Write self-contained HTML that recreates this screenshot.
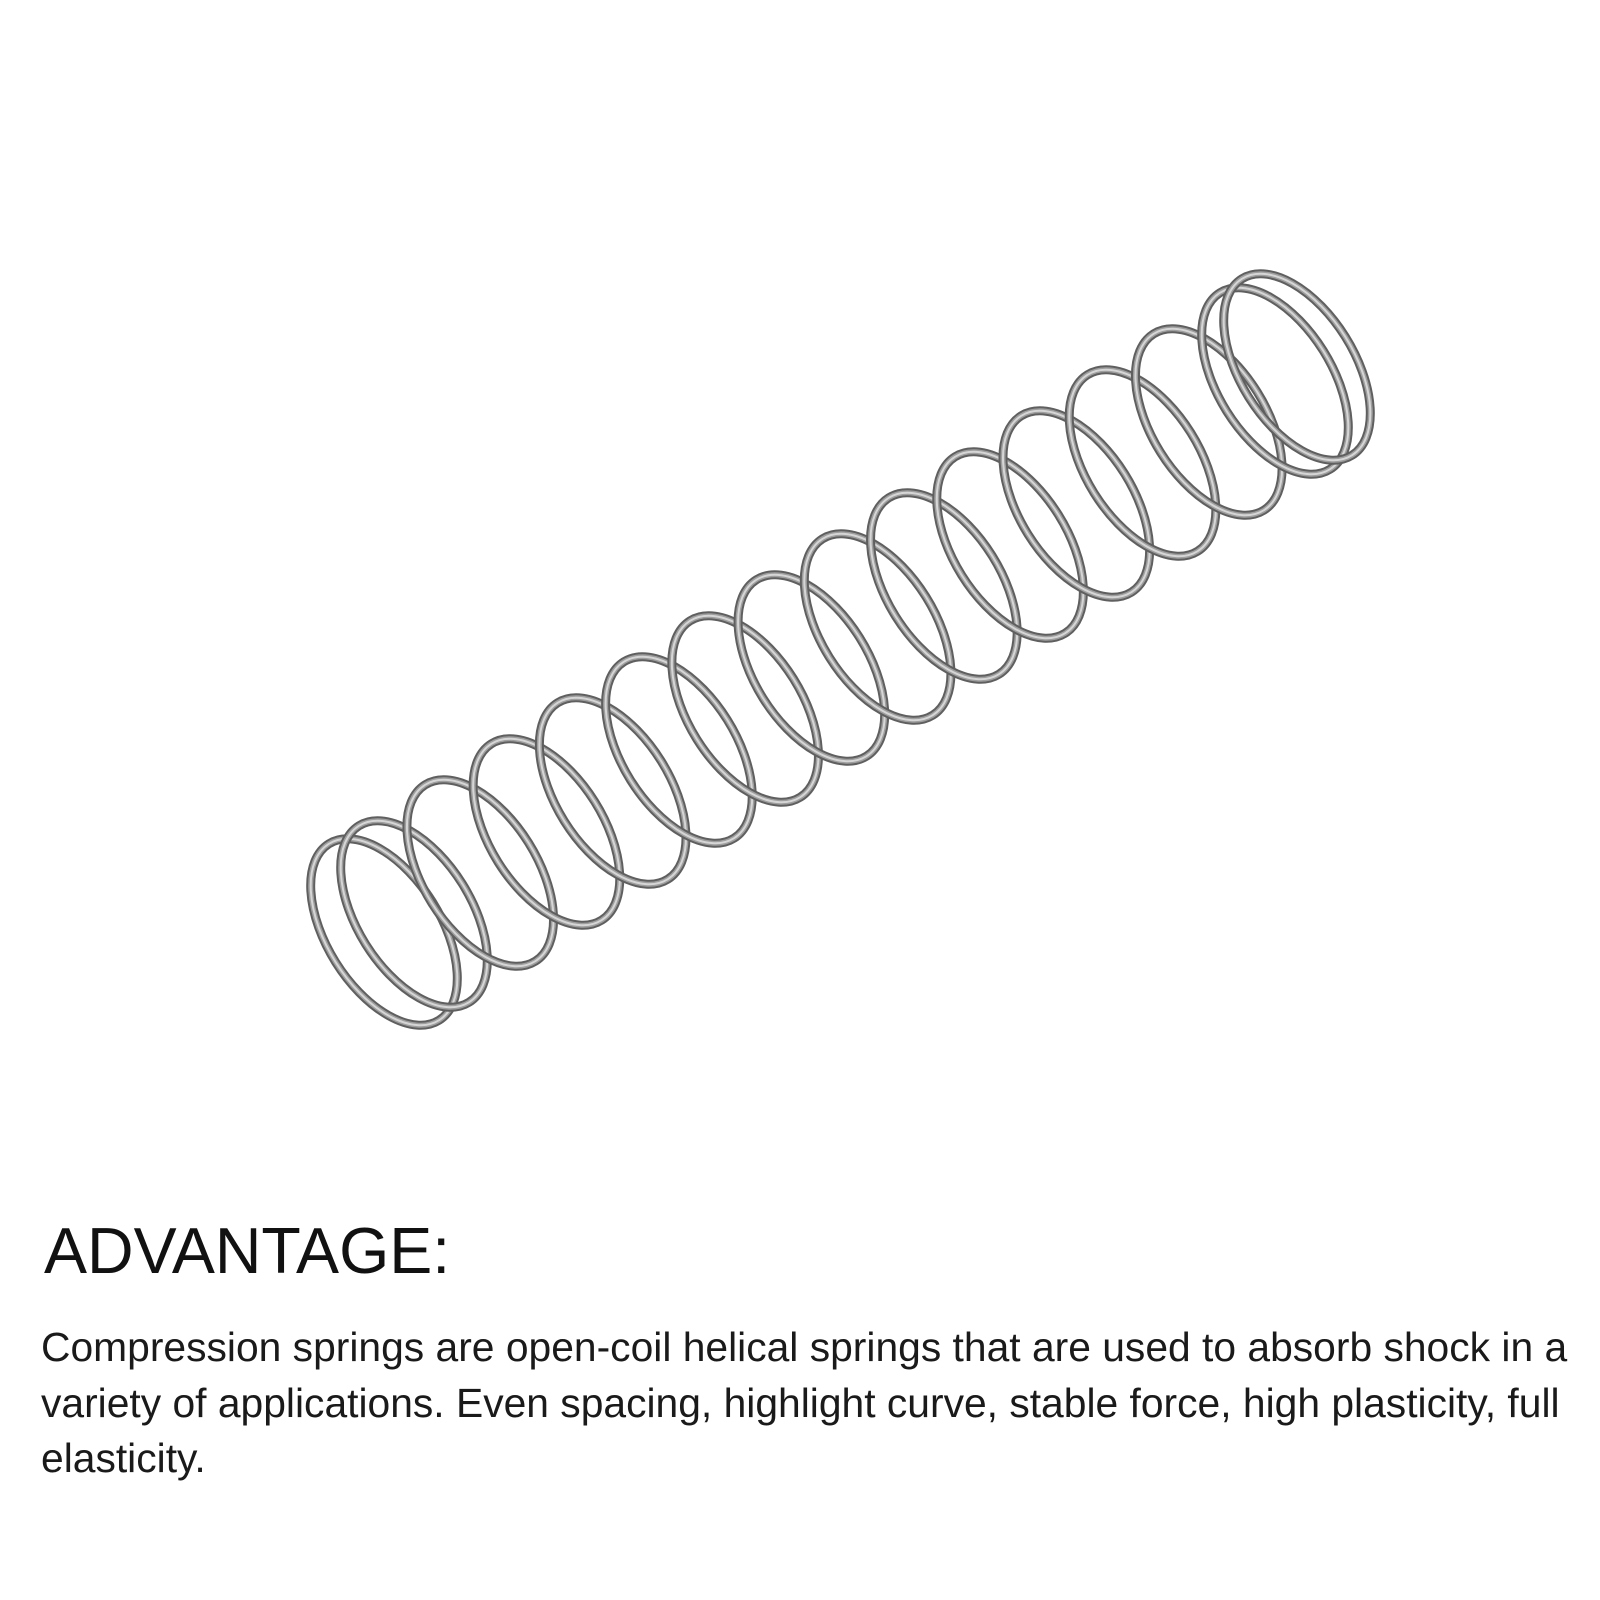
<!DOCTYPE html>
<html><head><meta charset="utf-8"><style>
html,body{margin:0;padding:0;background:#fff;}
body{width:1600px;height:1600px;position:relative;overflow:hidden;font-family:"Liberation Sans",sans-serif;color:#111;}
h1{position:absolute;left:44px;top:1216px;margin:0;font-weight:normal;font-size:64.5px;line-height:70px;}
p{position:absolute;left:41px;top:1320px;margin:0;font-size:40.8px;line-height:55.5px;color:#1a1a1a;white-space:nowrap;}
svg{position:absolute;left:0;top:0;}
</style></head><body>
<svg width="1600" height="1600" viewBox="0 0 1600 1600">
<g fill="none" id="s"></g>
</svg>
<h1>ADVANTAGE:</h1>
<p>Compression springs are open-coil helical springs that are used to absorb shock in a<br>variety of applications. Even spacing, highlight curve, stable force, high plasticity, full<br>elasticity.</p>
<script>
var g=document.getElementById('s'),ns='http://www.w3.org/2000/svg',n=16;
var x0=384,y0=932,x1=1297,y1=367;
var cx=[],cy=[];
var x0i=x0+30,y0i=y0-18,x1i=x1-22,y1i=y1+14;
cx.push(x0);cy.push(y0);
for(var i=1;i<n-1;i++){var t=(i-1)/(n-3);cx.push(x0i+(x1i-x0i)*t);cy.push(y0i+(y1i-y0i)*t);}
cx.push(x1);cy.push(y1);
function el(i,stroke,w){var e=document.createElementNS(ns,'ellipse');
e.setAttribute('cx',cx[i]);e.setAttribute('cy',cy[i]);e.setAttribute('rx',104);e.setAttribute('ry',57);
e.setAttribute('transform','rotate(58 '+cx[i]+' '+cy[i]+')');
e.setAttribute('stroke',stroke);e.setAttribute('stroke-width',w);g.appendChild(e);}
for(var i=0;i<n;i++){el(i,'#5f5f5f',9);el(i,'#9e9e9e',5);el(i,'#d6d6d6',2);}
</script>
</body></html>
